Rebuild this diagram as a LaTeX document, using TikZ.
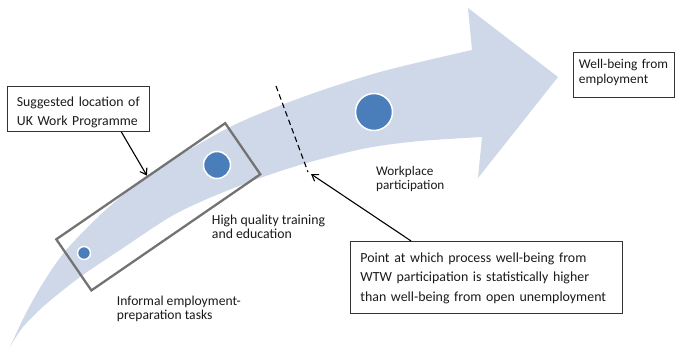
\documentclass[tikz,border=0pt]{standalone}
\usepackage{fontspec}
\setmainfont{Carlito}
\usetikzlibrary{arrows.meta,calc}
\definecolor{bandc}{HTML}{CFD8E8}
\definecolor{dotc}{HTML}{4A7EBB}
\definecolor{boxgray}{HTML}{737373}
\definecolor{txt}{HTML}{1A1A1A}
\tikzset{
  band/.style={fill=bandc},
  dot/.style={circle, fill=dotc, draw=white, line width=1.5pt, inner sep=0pt},
  labelbox/.style={draw=black!80, line width=0.8pt, align=left, anchor=north west, text=txt, inner ysep=0pt},
  freetext/.style={align=left, anchor=base west, inner sep=0pt, text=txt},
  pointer/.style={draw=black, line width=1.1pt, -{Straight Barb[length=6pt,width=8pt,line width=1.1pt]}},
}
\begin{document}
\begin{tikzpicture}[x=1pt,y=-1pt]
\useasboundingbox (0,0) rectangle (676,348);
% curved arrow band
\fill[band] plot[smooth] coordinates {(10,347) (25,315) (43,283) (67,249) (110,206) (160,168) (230,127) (300,98) (380,72) (472,50)}
  -- (468,8) -- (558,77) -- (478,178) -- (482,137)
  -- plot[smooth] coordinates {(482,137) (420,141) (367,148) (310,162) (260,178) (207,199) (170,217) (120,250) (80,277) (45,305) (23,327) (10,347)} -- cycle;
% circles
\node[dot, minimum size=13pt] (c1) at (84,253) {};
\node[dot, minimum size=27pt] (c2) at (217,165) {};
\node[dot, minimum size=37pt] (c3) at (374,112) {};
% rotated box
\node[draw=boxgray, line width=2.3pt, rotate=34.5, minimum width=205pt, minimum height=62pt, inner sep=0pt] (wp) at (158.3,206.8) {};
% dashed line
\coordinate (d1) at (276,86);
\coordinate (d2) at (308,172);
\draw[line width=1.1pt, dash pattern=on 5.5pt off 3.5pt] (d1) -- (d2);
% boxes
\node[labelbox, minimum width=142pt, text width=123pt, inner xsep=9.5pt, text height=20pt, text depth=25pt, font=\fontsize{13.8}{19}\selectfont] (sugg) at (7,86) {Suggested location of\\UK Work Programme};
\node[labelbox, minimum width=101pt, text width=90pt, inner xsep=5.5pt, text height=16.3pt, text depth=28.7pt, font=\fontsize{13.4}{14.4}\selectfont] (wb) at (573,52) {Well-being from\\employment};
\node[labelbox, minimum width=272pt, text width=252pt, inner xsep=10pt, text height=21pt, text depth=51pt, font=\fontsize{13.9}{19.5}\selectfont] (pt) at (350,241) {Point at which process well-being from\\WTW participation is statistically higher\\than well-being from open unemployment};
% free texts (anchored at the baseline of the last line)
\node[freetext, font=\fontsize{13.8}{14.2}\selectfont] (hq) at (211.7,238.5) {High quality training\\and education};
\node[freetext, font=\fontsize{13.6}{13.5}\selectfont] (inf) at (116.7,319.2) {Informal employment-\\preparation tasks};
\node[freetext, font=\fontsize{13.2}{14.3}\selectfont] (wkp) at (376,189.3) {Workplace\\participation};
% pointers
\draw[pointer] ($(sugg.south west)!0.8!(sugg.south east)$) -- ($(wp.north west)!0.54!(wp.north east)$);
\draw[pointer] ($(pt.north west)!0.224!(pt.north east)$) -- ($(d2)+(3,2)$);
\end{tikzpicture}
\end{document}
